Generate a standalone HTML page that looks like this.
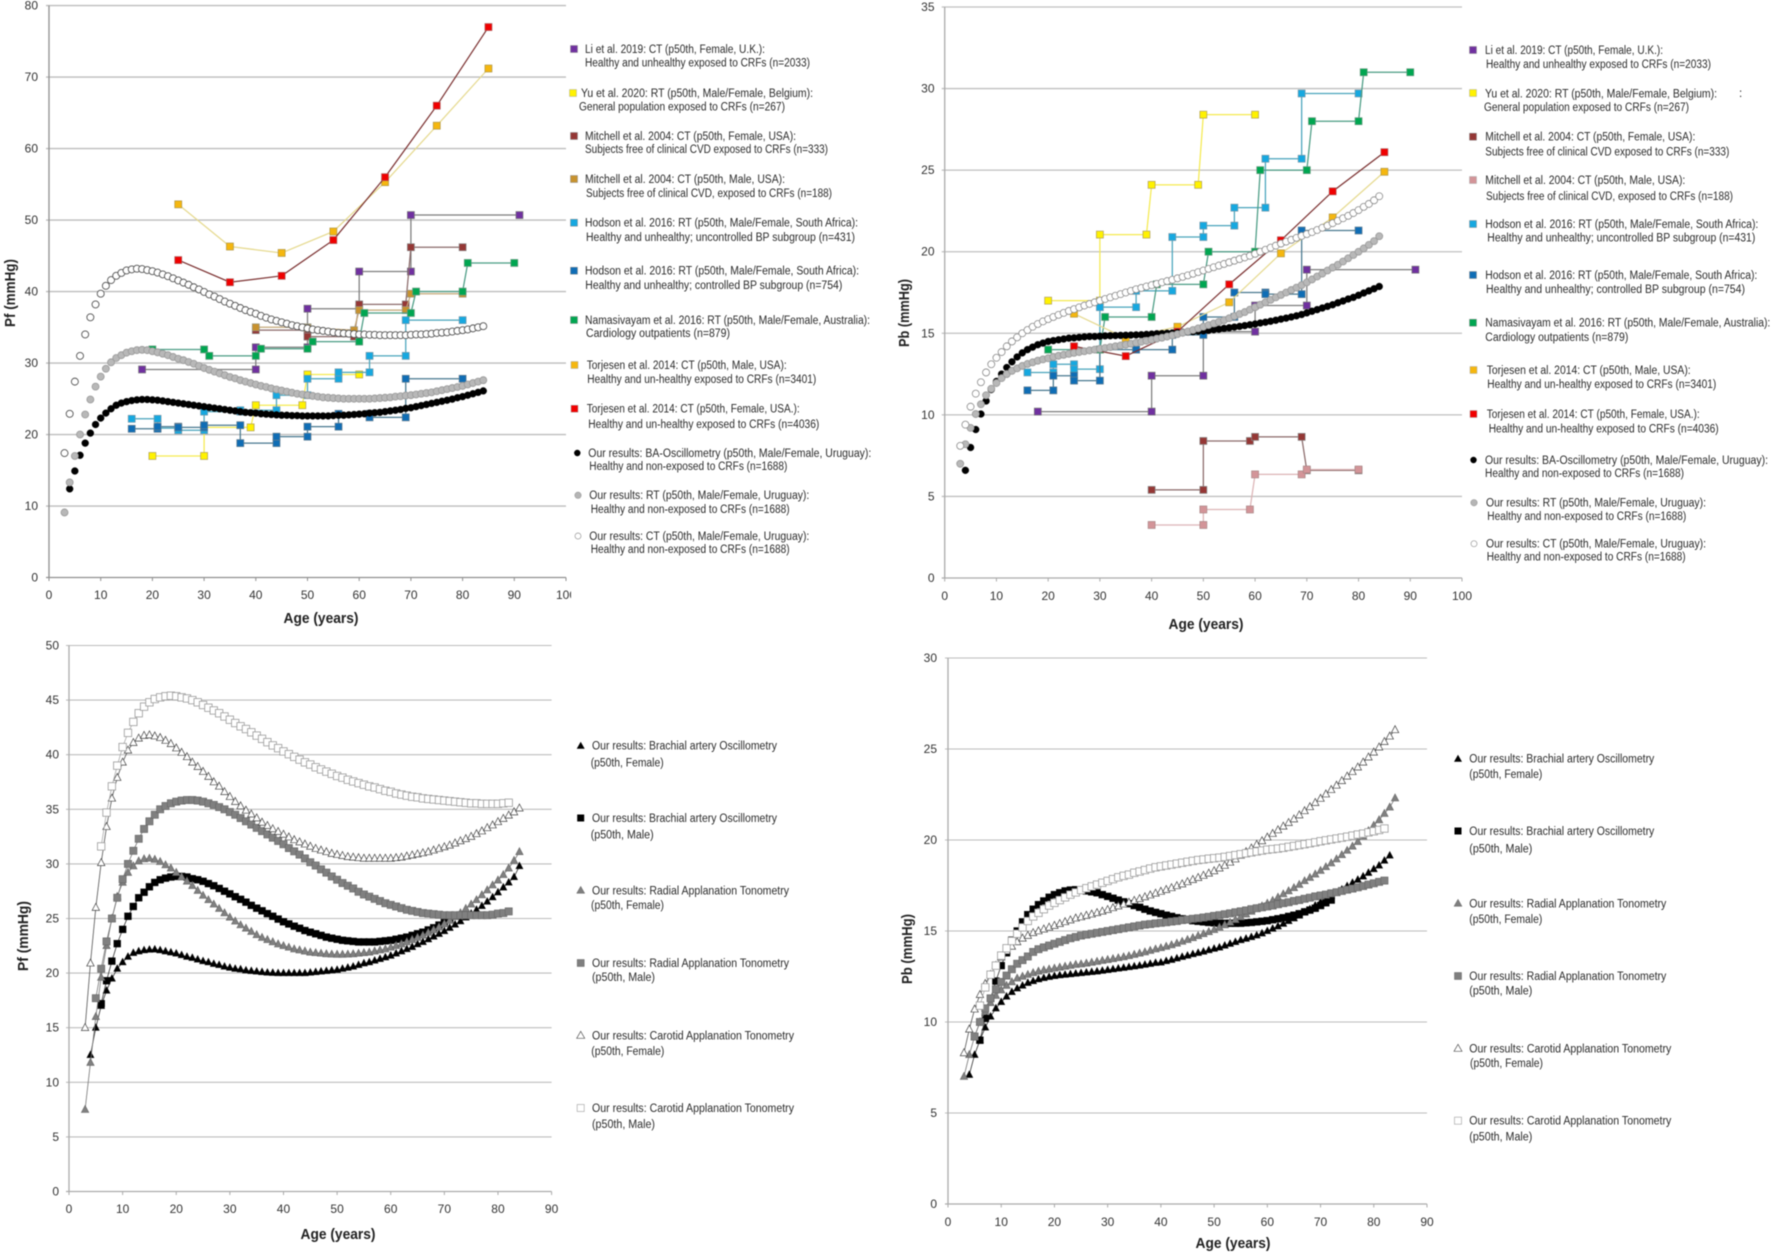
<!DOCTYPE html>
<html lang="en">
<head>
<meta charset="utf-8">
<title>Pf and Pb by age</title>
<style>
html,body{margin:0;padding:0;background:#fff;}
svg{display:block;filter:blur(0.45px);}
text{font-family:"Liberation Sans",sans-serif;}
.lg text{font-size:11.5px;fill:#2b2b2b;}
.at{font-size:15px;font-weight:bold;fill:#222;}
</style>
</head>
<body>
<svg id="figure" xmlns="http://www.w3.org/2000/svg" width="1772" height="1254" viewBox="0 0 1772 1254">
<rect width="1772" height="1254" fill="#fff"/>
<g id="chart-pf-top"></g>
<g id="chart-pb-top"></g>
<g id="chart-pf-bottom"></g>
<g id="chart-pb-bottom"></g>

<rect x="571" y="586" width="14" height="18" fill="#fff"/>

<text class="at" x="321" y="623" text-anchor="middle" textLength="75" lengthAdjust="spacingAndGlyphs">Age (years)</text>
<text class="at" transform="translate(15,293) rotate(-90)" text-anchor="middle" textLength="68" lengthAdjust="spacingAndGlyphs">Pf (mmHg)</text>
<text class="at" x="1206" y="629" text-anchor="middle" textLength="75" lengthAdjust="spacingAndGlyphs">Age (years)</text>
<text class="at" transform="translate(909,313) rotate(-90)" text-anchor="middle" textLength="68" lengthAdjust="spacingAndGlyphs">Pb (mmHg)</text>
<text class="at" x="338" y="1239" text-anchor="middle" textLength="75" lengthAdjust="spacingAndGlyphs">Age (years)</text>
<text class="at" transform="translate(28,936) rotate(-90)" text-anchor="middle" textLength="70" lengthAdjust="spacingAndGlyphs">Pf (mmHg)</text>
<text class="at" x="1233" y="1248" text-anchor="middle" textLength="75" lengthAdjust="spacingAndGlyphs">Age (years)</text>
<text class="at" transform="translate(912,949) rotate(-90)" text-anchor="middle" textLength="70" lengthAdjust="spacingAndGlyphs">Pb (mmHg)</text>

<g class="lg">
<g><rect x="570.5" y="45.5" width="7" height="7" fill="#7030A0" stroke="#888" stroke-width=".5"/><text x="585" y="53" textLength="180" lengthAdjust="spacingAndGlyphs">Li et al. 2019: CT (p50th, Female, U.K.):</text><text x="585" y="66.7" textLength="225" lengthAdjust="spacingAndGlyphs">Healthy and unhealthy exposed to CRFs (n=2033)</text></g>
<g><rect x="569.5" y="89.5" width="7" height="7" fill="#FFF200" stroke="#aaa" stroke-width=".5"/><text x="581" y="97" textLength="232" lengthAdjust="spacingAndGlyphs">Yu et al. 2020: RT (p50th, Male/Female, Belgium):</text><text x="579" y="110.7" textLength="206" lengthAdjust="spacingAndGlyphs">General population exposed to CRFs (n=267)</text></g>
<g><rect x="570.5" y="132.5" width="7" height="7" fill="#953735" stroke="#888" stroke-width=".5"/><text x="585" y="140" textLength="211" lengthAdjust="spacingAndGlyphs">Mitchell et al. 2004: CT (p50th, Female, USA):</text><text x="585" y="153" textLength="243" lengthAdjust="spacingAndGlyphs">Subjects free of clinical CVD exposed to CRFs (n=333)</text></g>
<g><rect x="570.5" y="175.5" width="7" height="7" fill="#C8922E" stroke="#888" stroke-width=".5"/><text x="585" y="183" textLength="200" lengthAdjust="spacingAndGlyphs">Mitchell et al. 2004: CT (p50th, Male, USA):</text><text x="586" y="197" textLength="246" lengthAdjust="spacingAndGlyphs">Subjects free of clinical CVD, exposed to CRFs (n=188)</text></g>
<g><rect x="570.5" y="219.2" width="7" height="7" fill="#16A8E0" stroke="#888" stroke-width=".5"/><text x="585" y="226.7" textLength="273" lengthAdjust="spacingAndGlyphs">Hodson et al. 2016: RT (p50th, Male/Female, South Africa):</text><text x="586" y="241" textLength="269" lengthAdjust="spacingAndGlyphs">Healthy and unhealthy; uncontrolled BP subgroup (n=431)</text></g>
<g><rect x="570.5" y="267.2" width="7" height="7" fill="#0F6DB5" stroke="#888" stroke-width=".5"/><text x="585" y="274.7" textLength="274" lengthAdjust="spacingAndGlyphs">Hodson et al. 2016: RT (p50th, Male/Female, South Africa):</text><text x="585.3" y="289" textLength="257" lengthAdjust="spacingAndGlyphs">Healthy and unhealthy; controlled BP subgroup (n=754)</text></g>
<g><rect x="570.5" y="316.5" width="7" height="7" fill="#00A651" stroke="#888" stroke-width=".5"/><text x="585" y="324" textLength="285" lengthAdjust="spacingAndGlyphs">Namasivayam et al. 2016: RT (p50th, Male/Female, Australia):</text><text x="586" y="337" textLength="144" lengthAdjust="spacingAndGlyphs">Cardiology outpatients (n=879)</text></g>
<g><rect x="571" y="361.5" width="7" height="7" fill="#F5B70F" stroke="#aaa" stroke-width=".5"/><text x="586.7" y="369" textLength="200" lengthAdjust="spacingAndGlyphs">Torjesen et al. 2014: CT (p50th, Male, USA):</text><text x="587.3" y="383" textLength="229" lengthAdjust="spacingAndGlyphs">Healthy and un-healthy exposed to CRFs (n=3401)</text></g>
<g><rect x="571" y="405.2" width="7" height="7" fill="#F00000" stroke="#aaa" stroke-width=".5"/><text x="586.7" y="412.7" textLength="213" lengthAdjust="spacingAndGlyphs">Torjesen et al. 2014: CT (p50th, Female, USA.):</text><text x="588.3" y="428" textLength="231" lengthAdjust="spacingAndGlyphs">Healthy and un-healthy exposed to CRFs (n=4036)</text></g>
<g><circle cx="577.3" cy="453" r="3.2" fill="#000"/><text x="588.3" y="457" textLength="283" lengthAdjust="spacingAndGlyphs">Our results: BA-Oscillometry (p50th, Male/Female, Uruguay):</text><text x="589.3" y="470" textLength="198" lengthAdjust="spacingAndGlyphs">Healthy and non-exposed to CRFs (n=1688)</text></g>
<g><circle cx="578" cy="495.3" r="3.2" fill="#b5b5b5" stroke="#999" stroke-width=".6"/><text x="589.3" y="499" textLength="220" lengthAdjust="spacingAndGlyphs">Our results: RT (p50th, Male/Female, Uruguay):</text><text x="590.7" y="513" textLength="199" lengthAdjust="spacingAndGlyphs">Healthy and non-exposed to CRFs (n=1688)</text></g>
<g><circle cx="578" cy="536" r="3" fill="#fff" stroke="#999" stroke-width=".7"/><text x="589.3" y="540" textLength="220" lengthAdjust="spacingAndGlyphs">Our results: CT (p50th, Male/Female, Uruguay):</text><text x="590.7" y="553" textLength="199" lengthAdjust="spacingAndGlyphs">Healthy and non-exposed to CRFs (n=1688)</text></g>
</g>

<g class="lg">
<g><rect x="1469.5" y="46.5" width="7" height="7" fill="#7030A0" stroke="#888" stroke-width=".5"/><text x="1485" y="54" textLength="178" lengthAdjust="spacingAndGlyphs">Li et al. 2019: CT (p50th, Female, U.K.):</text><text x="1486" y="68" textLength="225" lengthAdjust="spacingAndGlyphs">Healthy and unhealthy exposed to CRFs (n=2033)</text></g>
<g><rect x="1469.5" y="89.5" width="7" height="7" fill="#FFF200" stroke="#aaa" stroke-width=".5"/><text x="1485" y="97.7" textLength="232" lengthAdjust="spacingAndGlyphs">Yu et al. 2020: RT (p50th, Male/Female, Belgium):</text><text x="1739" y="97">:</text><text x="1484" y="111" textLength="205" lengthAdjust="spacingAndGlyphs">General population exposed to CRFs (n=267)</text></g>
<g><rect x="1469.5" y="133.2" width="7" height="7" fill="#953735" stroke="#888" stroke-width=".5"/><text x="1485.3" y="140.7" textLength="210" lengthAdjust="spacingAndGlyphs">Mitchell et al. 2004: CT (p50th, Female, USA):</text><text x="1485.3" y="155.7" textLength="244" lengthAdjust="spacingAndGlyphs">Subjects free of clinical CVD exposed to CRFs (n=333)</text></g>
<g><rect x="1469.5" y="176.5" width="7" height="7" fill="#D39498" stroke="#aaa" stroke-width=".5"/><text x="1485.3" y="184" textLength="200" lengthAdjust="spacingAndGlyphs">Mitchell et al. 2004: CT (p50th, Male, USA):</text><text x="1486" y="200" textLength="247" lengthAdjust="spacingAndGlyphs">Subjects free of clinical CVD, exposed to CRFs (n=188)</text></g>
<g><rect x="1469.5" y="220.5" width="7" height="7" fill="#16A8E0" stroke="#888" stroke-width=".5"/><text x="1485.3" y="228" textLength="273" lengthAdjust="spacingAndGlyphs">Hodson et al. 2016: RT (p50th, Male/Female, South Africa):</text><text x="1487.3" y="241.7" textLength="268" lengthAdjust="spacingAndGlyphs">Healthy and unhealthy; uncontrolled BP subgroup (n=431)</text></g>
<g><rect x="1469.5" y="271.5" width="7" height="7" fill="#0F6DB5" stroke="#888" stroke-width=".5"/><text x="1485.3" y="279" textLength="272" lengthAdjust="spacingAndGlyphs">Hodson et al. 2016: RT (p50th, Male/Female, South Africa):</text><text x="1486" y="293" textLength="259" lengthAdjust="spacingAndGlyphs">Healthy and unhealthy; controlled BP subgroup (n=754)</text></g>
<g><rect x="1469.5" y="319.2" width="7" height="7" fill="#00A651" stroke="#888" stroke-width=".5"/><text x="1485.3" y="326.7" textLength="285" lengthAdjust="spacingAndGlyphs">Namasivayam et al. 2016: RT (p50th, Male/Female, Australia):</text><text x="1485.3" y="341" textLength="143" lengthAdjust="spacingAndGlyphs">Cardiology outpatients (n=879)</text></g>
<g><rect x="1470" y="366.5" width="7" height="7" fill="#F5B70F" stroke="#aaa" stroke-width=".5"/><text x="1486.7" y="374" textLength="204" lengthAdjust="spacingAndGlyphs">Torjesen et al. 2014: CT (p50th, Male, USA):</text><text x="1487.3" y="388" textLength="229" lengthAdjust="spacingAndGlyphs">Healthy and un-healthy exposed to CRFs (n=3401)</text></g>
<g><rect x="1470" y="410.5" width="7" height="7" fill="#F00000" stroke="#aaa" stroke-width=".5"/><text x="1486.7" y="418" textLength="213" lengthAdjust="spacingAndGlyphs">Torjesen et al. 2014: CT (p50th, Female, USA.):</text><text x="1488.7" y="432.7" textLength="230" lengthAdjust="spacingAndGlyphs">Healthy and un-healthy exposed to CRFs (n=4036)</text></g>
<g><circle cx="1473.5" cy="460" r="3.2" fill="#000"/><text x="1485" y="464" textLength="283" lengthAdjust="spacingAndGlyphs">Our results: BA-Oscillometry (p50th, Male/Female, Uruguay):</text><text x="1485" y="477" textLength="199" lengthAdjust="spacingAndGlyphs">Healthy and non-exposed to CRFs (n=1688)</text></g>
<g><circle cx="1474" cy="502.7" r="3.2" fill="#b5b5b5" stroke="#999" stroke-width=".6"/><text x="1486" y="506.7" textLength="220" lengthAdjust="spacingAndGlyphs">Our results: RT (p50th, Male/Female, Uruguay):</text><text x="1487.3" y="520" textLength="199" lengthAdjust="spacingAndGlyphs">Healthy and non-exposed to CRFs (n=1688)</text></g>
<g><circle cx="1474" cy="543.7" r="3" fill="#fff" stroke="#999" stroke-width=".7"/><text x="1486" y="547.7" textLength="220" lengthAdjust="spacingAndGlyphs">Our results: CT (p50th, Male/Female, Uruguay):</text><text x="1486.7" y="560.7" textLength="199" lengthAdjust="spacingAndGlyphs">Healthy and non-exposed to CRFs (n=1688)</text></g>
</g>

<g class="lg">
<g><polygon points="580.7,741.7 584.7,748.7 576.7,748.7" fill="#000"/><text x="592" y="749.7" textLength="185" lengthAdjust="spacingAndGlyphs">Our results: Brachial artery Oscillometry</text><text x="590.7" y="766.3" textLength="73" lengthAdjust="spacingAndGlyphs">(p50th, Female)</text></g>
<g><rect x="577.2" y="814.5" width="7" height="7" fill="#000"/><text x="592" y="822" textLength="185" lengthAdjust="spacingAndGlyphs">Our results: Brachial artery Oscillometry</text><text x="590.7" y="838.3" textLength="63" lengthAdjust="spacingAndGlyphs">(p50th, Male)</text></g>
<g><polygon points="580.7,886.3 584.7,893.3 576.7,893.3" fill="#7f7f7f" stroke="#666" stroke-width=".5"/><text x="592" y="894.3" textLength="197" lengthAdjust="spacingAndGlyphs">Our results: Radial Applanation Tonometry</text><text x="591" y="909" textLength="73" lengthAdjust="spacingAndGlyphs">(p50th, Female)</text></g>
<g><rect x="577.2" y="959.5" width="7" height="7" fill="#7f7f7f" stroke="#666" stroke-width=".5"/><text x="592" y="967" textLength="197" lengthAdjust="spacingAndGlyphs">Our results: Radial Applanation Tonometry</text><text x="592" y="981" textLength="63" lengthAdjust="spacingAndGlyphs">(p50th, Male)</text></g>
<g><polygon points="580.7,1031.3 584.7,1038.3 576.7,1038.3" fill="#fff" stroke="#555" stroke-width=".7"/><text x="592" y="1039.3" textLength="202" lengthAdjust="spacingAndGlyphs">Our results: Carotid Applanation Tonometry</text><text x="591.3" y="1055" textLength="73" lengthAdjust="spacingAndGlyphs">(p50th, Female)</text></g>
<g><rect x="577.2" y="1104.5" width="7" height="7" fill="#fff" stroke="#aaa" stroke-width=".7"/><text x="592" y="1112" textLength="202" lengthAdjust="spacingAndGlyphs">Our results: Carotid Applanation Tonometry</text><text x="592" y="1128" textLength="63" lengthAdjust="spacingAndGlyphs">(p50th, Male)</text></g>
</g>

<g class="lg">
<g><polygon points="1458,754.7 1462,761.7 1454,761.7" fill="#000"/><text x="1469.3" y="762.7" textLength="185" lengthAdjust="spacingAndGlyphs">Our results: Brachial artery Oscillometry</text><text x="1469.3" y="778" textLength="73" lengthAdjust="spacingAndGlyphs">(p50th, Female)</text></g>
<g><rect x="1454.5" y="827.5" width="7" height="7" fill="#000"/><text x="1469.3" y="835" textLength="185" lengthAdjust="spacingAndGlyphs">Our results: Brachial artery Oscillometry</text><text x="1469.3" y="852.3" textLength="63" lengthAdjust="spacingAndGlyphs">(p50th, Male)</text></g>
<g><polygon points="1458,899.3 1462,906.3 1454,906.3" fill="#7f7f7f" stroke="#666" stroke-width=".5"/><text x="1469.3" y="907.3" textLength="197" lengthAdjust="spacingAndGlyphs">Our results: Radial Applanation Tonometry</text><text x="1469.3" y="923" textLength="73" lengthAdjust="spacingAndGlyphs">(p50th, Female)</text></g>
<g><rect x="1454.5" y="972.5" width="7" height="7" fill="#7f7f7f" stroke="#666" stroke-width=".5"/><text x="1469.3" y="980" textLength="197" lengthAdjust="spacingAndGlyphs">Our results: Radial Applanation Tonometry</text><text x="1469.3" y="994.7" textLength="63" lengthAdjust="spacingAndGlyphs">(p50th, Male)</text></g>
<g><polygon points="1458,1044.3 1462,1051.3 1454,1051.3" fill="#fff" stroke="#555" stroke-width=".7"/><text x="1469.3" y="1052.3" textLength="202" lengthAdjust="spacingAndGlyphs">Our results: Carotid Applanation Tonometry</text><text x="1470" y="1067" textLength="73" lengthAdjust="spacingAndGlyphs">(p50th, Female)</text></g>
<g><rect x="1454.5" y="1117.2" width="7" height="7" fill="#fff" stroke="#aaa" stroke-width=".7"/><text x="1469.3" y="1124.7" textLength="202" lengthAdjust="spacingAndGlyphs">Our results: Carotid Applanation Tonometry</text><text x="1469.3" y="1140.7" textLength="63" lengthAdjust="spacingAndGlyphs">(p50th, Male)</text></g>
</g>
</svg>

<script>
/* ---- tick labels ---- */
const pfTopXTicks = [0,10,20,30,40,50,60,70,80,90,100];
const pfTopYTicks = [0,10,20,30,40,50,60,70,80];
const pbTopXTicks = [0,10,20,30,40,50,60,70,80,90,100];
const pbTopYTicks = [0,5,10,15,20,25,30,35];
const pfBottomXTicks = [0,10,20,30,40,50,60,70,80,90];
const pfBottomYTicks = [0,5,10,15,20,25,30,35,40,45,50];
const pbBottomXTicks = [0,10,20,30,40,50,60,70,80,90];
const pbBottomYTicks = [0,5,10,15,20,25,30];

/* ---- Pf literature series ---- */
const pfLiAges = [18,40,40,50,50,60,60,70,70,91];
const pfLiValues = [29.1,29.1,32.2,32.2,37.6,37.6,42.8,42.8,50.7,50.7];
const pfYuAges = [20,30,30,39,40,49,50,60];
const pfYuValues = [17,17,21,21,24.1,24.1,28.4,28.4];
const pfMitchellFAges = [40,50,50,59,60,69,70,80];
const pfMitchellFValues = [34.6,34.6,33.7,33.7,38.2,38.2,46.2,46.2];
const pfMitchellMAges = [40,50,50,59,60,69,70,80];
const pfMitchellMValues = [35,35,34.9,34.6,37.4,37.4,39.7,39.7];
const pfHodsonUAges = [16,21,21,25,25,30,30,37,37,44,44,50,50,56,56,62,62,69,69,80];
const pfHodsonUValues = [22.2,22.2,20.9,20.9,20.6,20.6,23.2,23.2,23.4,23.4,25.5,25.5,27.8,27.8,28.7,28.7,31,31,36,36];
const pfHodsonCAges = [16,21,21,25,25,30,30,37,37,44,44,50,50,56,56,62,62,69,69,80];
const pfHodsonCValues = [20.8,20.8,21.1,21.1,21,21,21.3,21.3,18.8,18.8,19.7,19.7,21.1,21.1,22.9,22.9,22.4,22.4,27.8,27.8];
const pfNamaAges = [20,30,31,40,41,50,51,60,61,70,71,80,81,90];
const pfNamaValues = [31.9,31.9,31,31,32,32,33,33,37,37,40,40,44,44];
const pfTorjesenAges = [25,35,45,55,65,75,85];
const pfTorjesenMValues = [52.2,46.3,45.4,48.4,55.3,63.2,71.2];
const pfTorjesenFValues = [44.4,41.3,42.2,47.2,56,66,77];

/* ---- Pf own results: circles ---- */
const pfCircleBaStart = 4;
const pfCircleBa = [12.4,14.9,17.1,18.8,20.2,21.4,22.3,23,23.6,24.1,24.4,24.6,24.75,24.85,24.9,24.9,24.85,24.8,24.7,24.6,24.5,24.4,24.3,24.2,24.1,24,23.9,23.8,23.7,23.6,23.5,23.4,23.3,23.2,23.1,23.05,23,22.9,22.85,22.8,22.75,22.7,22.7,22.65,22.65,22.6,22.6,22.6,22.6,22.6,22.6,22.65,22.7,22.7,22.75,22.8,22.85,22.9,23,23.05,23.1,23.2,23.3,23.4,23.5,23.65,23.75,23.9,24.05,24.2,24.35,24.5,24.65,24.8,24.95,25.15,25.3,25.5,25.7,25.9,26.1];
const pfCircleRtStart = 3;
const pfCircleRt = [9.1,13.3,17,20,22.8,24.9,26.7,28.1,29.2,30.1,30.7,31.1,31.45,31.65,31.8,31.85,31.8,31.65,31.5,31.3,31.1,30.85,30.6,30.4,30.15,29.9,29.6,29.3,29.05,28.8,28.55,28.3,28.05,27.85,27.6,27.4,27.2,27,26.8,26.65,26.45,26.3,26.15,26,25.85,25.7,25.6,25.5,25.4,25.3,25.2,25.15,25.1,25.05,25,25,25,25,25,25,25.05,25.1,25.15,25.2,25.3,25.35,25.45,25.5,25.6,25.7,25.8,25.9,26.05,26.2,26.35,26.5,26.65,26.8,27,27.2,27.4,27.6];
const pfCircleCtStart = 3;
const pfCircleCt = [17.4,22.9,27.4,31,34,36.4,38.2,39.7,40.8,41.6,42.2,42.6,42.95,43.1,43.2,43.15,43,42.85,42.65,42.4,42.15,41.85,41.55,41.25,40.95,40.6,40.3,39.95,39.6,39.3,38.95,38.6,38.3,38,37.7,37.4,37.15,36.9,36.6,36.35,36.1,35.9,35.7,35.5,35.3,35.15,35,34.85,34.7,34.6,34.5,34.4,34.3,34.2,34.15,34.1,34.05,34,34,33.95,33.95,33.9,33.9,33.9,33.9,33.9,33.9,33.95,34,34,34.05,34.1,34.2,34.25,34.3,34.4,34.5,34.6,34.7,34.85,35,35.15];

/* ---- Pb literature series ---- */
const pbLiAges = [18,40,40,50,50,60,60,70,70,91];
const pbLiValues = [10.2,10.2,12.4,12.4,15.1,15.1,16.7,16.7,18.9,18.9];
const pbYuAges = [20,30,30,39,40,49,50,60];
const pbYuValues = [17,17,21.05,21.05,24.1,24.1,28.4,28.4];
const pbMitchellFAges = [40,50,50,59,60,69,70,80];
const pbMitchellFValues = [5.4,5.4,8.4,8.4,8.65,8.65,6.6,6.6];
const pbMitchellMAges = [40,50,50,59,60,69,70,80];
const pbMitchellMValues = [3.25,3.25,4.2,4.2,6.35,6.35,6.65,6.65];
const pbHodsonUAges = [16,21,21,25,25,30,30,37,37,44,44,50,50,56,56,62,62,69,69,80];
const pbHodsonUValues = [12.6,12.6,13.1,13.1,12.8,12.8,16.6,16.6,17.6,17.6,20.9,20.9,21.6,21.6,22.7,22.7,25.7,25.7,29.7,29.7];
const pbHodsonCAges = [16,21,21,25,25,30,30,37,37,44,44,50,50,56,56,62,62,69,69,80];
const pbHodsonCValues = [11.5,11.5,12.4,12.4,12.1,12.1,14,14,14,14,14.9,14.9,16,16,17.5,17.5,17.4,17.4,21.3,21.3];
const pbNamaAges = [20,30,31,40,41,50,51,60,61,70,71,80,81,90];
const pbNamaValues = [14,14,16,16,18,18,20,20,25,25,28,28,31,31];
const pbTorjesenAges = [25,35,45,55,65,75,85];
const pbTorjesenMValues = [16.2,14.7,15.4,16.9,19.9,22.1,24.9];
const pbTorjesenFValues = [14.2,13.6,15.1,18,20.7,23.7,26.1];

/* ---- Pb own results: circles ---- */
const pbCircleBaStart = 4;
const pbCircleBa = [6.6,8,9.1,10.05,10.85,11.55,12.05,12.5,12.9,13.25,13.55,13.8,14,14.15,14.3,14.4,14.5,14.55,14.6,14.65,14.7,14.72,14.75,14.78,14.8,14.8,14.82,14.84,14.85,14.86,14.87,14.88,14.89,14.9,14.91,14.93,14.95,14.97,14.98,15,15.02,15.04,15.06,15.08,15.1,15.13,15.15,15.18,15.22,15.25,15.3,15.34,15.38,15.42,15.47,15.52,15.57,15.63,15.68,15.74,15.8,15.87,15.93,16,16.07,16.15,16.25,16.35,16.45,16.55,16.65,16.75,16.87,16.98,17.1,17.2,17.33,17.47,17.6,17.73,17.87];
const pbCircleRtStart = 3;
const pbCircleRt = [7,8.2,9.2,10.05,10.65,11.2,11.6,11.95,12.25,12.5,12.7,12.85,13,13.12,13.22,13.32,13.4,13.47,13.55,13.62,13.68,13.74,13.8,13.85,13.9,13.95,14,14.05,14.1,14.15,14.2,14.25,14.3,14.36,14.42,14.48,14.54,14.6,14.67,14.73,14.8,14.87,14.95,15.03,15.11,15.2,15.3,15.4,15.5,15.6,15.7,15.8,15.92,16.05,16.18,16.3,16.45,16.6,16.75,16.9,17.05,17.2,17.35,17.5,17.65,17.8,17.95,18.12,18.3,18.48,18.66,18.85,19.03,19.2,19.4,19.6,19.8,20,20.2,20.42,20.65,20.95];
const pbCircleCtStart = 3;
const pbCircleCt = [8.1,9.4,10.5,11.3,12,12.6,13.1,13.5,13.85,14.2,14.5,14.75,15,15.2,15.4,15.57,15.73,15.87,16,16.13,16.25,16.37,16.48,16.59,16.7,16.8,16.9,17,17.1,17.2,17.3,17.4,17.5,17.6,17.7,17.78,17.87,17.95,18.03,18.12,18.2,18.28,18.37,18.46,18.55,18.65,18.75,18.85,18.95,19.05,19.15,19.25,19.35,19.45,19.55,19.65,19.75,19.87,20,20.12,20.25,20.37,20.5,20.62,20.73,20.85,20.97,21.08,21.2,21.33,21.47,21.6,21.75,21.9,22.05,22.2,22.37,22.55,22.75,22.93,23.15,23.4];

/* ---- Pf by sex ---- */
const pfBaFemaleStart = 4;
const pfBaFemale = [12.5,15,17,18.4,19.5,20.4,21,21.5,21.85,22,22.1,22.15,22.17,22.1,22,21.9,21.8,21.65,21.5,21.4,21.25,21.1,21,20.85,20.75,20.6,20.5,20.4,20.35,20.25,20.2,20.15,20.1,20.05,20.03,20,20,20,20,20,20,20.05,20.1,20.15,20.2,20.25,20.3,20.4,20.5,20.6,20.75,20.9,21,21.15,21.3,21.45,21.6,21.8,22,22.2,22.4,22.65,22.85,23.1,23.35,23.6,23.85,24.15,24.45,24.75,25.1,25.45,25.8,26.15,26.55,26.95,27.4,27.85,28.3,28.8,29.8];
const pfBaMaleStart = 6;
const pfBaMale = [17.2,19.3,21.1,22.7,24,25.2,26.1,26.9,27.4,27.9,28.3,28.55,28.7,28.8,28.85,28.85,28.8,28.65,28.55,28.4,28.2,28,27.75,27.5,27.25,27,26.75,26.5,26.2,25.95,25.7,25.45,25.2,24.95,24.7,24.5,24.3,24.1,23.9,23.75,23.6,23.45,23.3,23.2,23.1,23,22.95,22.9,22.85,22.85,22.85,22.85,22.9,22.95,23,23.1,23.2,23.3,23.45,23.6,23.75,23.95,24.15,24.4,24.65,24.9,25.2];
const pfRtFemaleStart = 3;
const pfRtFemale = [7.5,11.8,16,19.6,22.5,25,27,28.3,29.2,29.8,30.25,30.45,30.5,30.4,30.2,29.9,29.6,29.2,28.8,28.4,28,27.55,27.1,26.7,26.3,25.9,25.5,25.1,24.75,24.4,24.1,23.8,23.5,23.25,23.05,22.85,22.65,22.5,22.35,22.2,22.1,22,21.9,21.85,21.8,21.75,21.72,21.7,21.7,21.72,21.75,21.8,21.85,21.9,22,22.1,22.2,22.35,22.5,22.65,22.85,23.05,23.25,23.45,23.7,23.95,24.2,24.5,24.8,25.15,25.5,25.9,26.3,26.7,27.15,27.6,28.05,28.5,29,29.6,30.3,31.1];
const pfRtMaleStart = 5;
const pfRtMale = [17.7,20.4,22.9,25,26.9,28.6,30,31.2,32.3,33.2,33.9,34.5,35,35.3,35.55,35.7,35.8,35.85,35.85,35.8,35.7,35.55,35.4,35.2,35,34.75,34.5,34.2,33.9,33.6,33.3,33,32.7,32.4,32.1,31.8,31.45,31.15,30.85,30.5,30.15,29.85,29.5,29.2,28.85,28.55,28.25,28,27.75,27.45,27.2,27,26.8,26.6,26.4,26.25,26.1,25.95,25.8,25.7,25.6,25.5,25.45,25.4,25.35,25.3,25.3,25.3,25.3,25.3,25.3,25.3,25.3,25.3,25.35,25.45,25.5,25.65];
const pfCtFemaleStart = 3;
const pfCtFemale = [15,20.9,26,30.1,33.4,36,37.9,39.3,40.4,41.1,41.5,41.75,41.8,41.7,41.55,41.3,41,40.6,40.2,39.8,39.3,38.9,38.45,38,37.5,37.1,36.6,36.15,35.7,35.3,34.9,34.55,34.2,33.8,33.5,33.2,32.95,32.7,32.45,32.2,32,31.8,31.6,31.4,31.25,31.1,30.95,30.85,30.75,30.65,30.6,30.55,30.5,30.5,30.5,30.5,30.5,30.5,30.55,30.6,30.7,30.8,30.9,31,31.1,31.25,31.4,31.55,31.7,31.9,32.1,32.3,32.5,32.75,33,33.3,33.55,33.85,34.15,34.45,34.75,35.1];
const pfCtMaleStart = 6;
const pfCtMale = [31.6,34.7,37.1,39,40.7,42,43,43.8,44.4,44.8,45.1,45.25,45.35,45.4,45.35,45.25,45.15,45,44.8,44.55,44.3,44.05,43.8,43.5,43.2,42.9,42.6,42.35,42.05,41.75,41.45,41.15,40.85,40.6,40.3,40.05,39.8,39.55,39.3,39.1,38.85,38.65,38.45,38.25,38.05,37.9,37.7,37.55,37.4,37.25,37.1,37,36.85,36.7,36.6,36.45,36.35,36.25,36.15,36.1,36,35.95,35.9,35.85,35.8,35.75,35.7,35.65,35.6,35.55,35.55,35.5,35.5,35.5,35.5,35.55,35.6];

/* ---- Pb by sex ---- */
const pbBaFemaleStart = 4;
const pbBaFemale = [7.1,8.2,9,9.7,10.3,10.75,11.1,11.4,11.65,11.85,12,12.15,12.25,12.35,12.42,12.48,12.53,12.57,12.6,12.63,12.66,12.69,12.72,12.75,12.78,12.82,12.86,12.9,12.94,12.98,13.02,13.06,13.1,13.15,13.2,13.25,13.27,13.35,13.42,13.5,13.58,13.65,13.73,13.8,13.87,13.95,14.03,14.1,14.2,14.3,14.4,14.5,14.58,14.67,14.76,14.87,15,15.13,15.26,15.4,15.55,15.7,15.85,16.03,16.2,16.4,16.58,16.75,16.93,17.1,17.28,17.47,17.65,17.82,18,18.2,18.4,18.6,18.87,19.15];
const pbBaMaleStart = 6;
const pbBaMale = [9,10.2,11.3,12.25,13.1,13.8,14.5,15,15.5,15.9,16.2,16.45,16.65,16.85,17,17.1,17.2,17.25,17.27,17.25,17.2,17.15,17.1,17,16.9,16.8,16.7,16.6,16.5,16.4,16.3,16.2,16.1,16.02,15.95,15.87,15.8,15.73,15.67,15.62,15.57,15.53,15.5,15.47,15.45,15.43,15.42,15.42,15.42,15.43,15.45,15.47,15.5,15.53,15.57,15.62,15.67,15.73,15.8,15.87,15.95,16.05,16.15,16.25,16.4,16.55,16.7];
const pbRtFemaleStart = 3;
const pbRtFemale = [7,8.2,9.2,10,10.6,11.05,11.45,11.75,12,12.2,12.4,12.5,12.6,12.7,12.78,12.85,12.9,12.95,13,13.05,13.1,13.15,13.18,13.22,13.27,13.32,13.37,13.42,13.47,13.52,13.57,13.63,13.7,13.77,13.84,13.92,14,14.07,14.15,14.23,14.32,14.42,14.52,14.62,14.73,14.84,14.95,15.07,15.2,15.33,15.47,15.62,15.77,15.92,16.07,16.22,16.37,16.52,16.67,16.85,17.03,17.2,17.37,17.55,17.75,17.93,18.12,18.32,18.52,18.73,18.95,19.18,19.42,19.65,19.9,20.2,20.5,20.8,21.1,21.45,21.8,22.3];
const pbRtMaleStart = 5;
const pbRtMale = [9.2,10,10.75,11.3,11.8,12.2,12.55,12.9,13.2,13.4,13.6,13.85,14,14.1,14.2,14.3,14.4,14.5,14.6,14.67,14.75,14.8,14.85,14.9,14.95,15,15.05,15.1,15.15,15.2,15.25,15.3,15.35,15.38,15.42,15.45,15.48,15.52,15.55,15.6,15.63,15.67,15.7,15.74,15.78,15.83,15.87,15.92,15.97,16.03,16.08,16.13,16.2,16.25,16.3,16.35,16.4,16.47,16.53,16.58,16.65,16.7,16.77,16.83,16.9,16.95,17,17.07,17.13,17.2,17.27,17.33,17.4,17.47,17.55,17.62,17.7,17.77];
const pbCtFemaleStart = 3;
const pbCtFemale = [8.3,9.6,10.7,11.5,12.1,12.6,13.1,13.55,13.9,14.15,14.4,14.6,14.75,14.9,15,15.1,15.2,15.3,15.4,15.5,15.6,15.7,15.77,15.85,15.92,16,16.08,16.17,16.27,16.37,16.47,16.57,16.67,16.77,16.87,16.97,17.07,17.17,17.27,17.37,17.48,17.58,17.7,17.82,17.93,18.05,18.17,18.3,18.45,18.6,18.77,18.95,19.15,19.35,19.55,19.75,19.95,20.15,20.35,20.55,20.75,20.95,21.15,21.37,21.6,21.82,22.05,22.28,22.52,22.76,23,23.25,23.5,23.75,24,24.27,24.55,24.82,25.1,25.4,25.7,26.05];
const pbCtMaleStart = 6;
const pbCtMale = [10.9,11.9,12.6,13.1,13.65,14.05,14.45,14.85,15.2,15.55,15.8,16,16.2,16.4,16.55,16.7,16.85,17,17.12,17.25,17.35,17.45,17.55,17.65,17.75,17.85,17.95,18.03,18.1,18.2,18.27,18.35,18.43,18.5,18.55,18.6,18.65,18.7,18.75,18.8,18.85,18.9,18.93,18.97,19,19.03,19.07,19.12,19.17,19.22,19.27,19.32,19.37,19.42,19.47,19.5,19.53,19.57,19.62,19.67,19.72,19.77,19.82,19.87,19.93,19.98,20.03,20.08,20.13,20.18,20.24,20.3,20.35,20.42,20.48,20.55,20.63];

const NS = 'http://www.w3.org/2000/svg';
function mk(tag, attrs, parent) {
  const el = document.createElementNS(NS, tag);
  for (const k in attrs) el.setAttribute(k, attrs[k]);
  parent.appendChild(el);
  return el;
}
function makeAxis(x0, x1, xMax, y0, y1, yMax) {
  return {
    x0: x0, x1: x1, y0: y0, y1: y1,
    x: function (v) { return x0 + (v / xMax) * (x1 - x0); },
    y: function (v) { return y0 - (v / yMax) * (y0 - y1); }
  };
}
function drawAxes(g, ax, xTicks, yTicks, s) {
  yTicks.forEach(function (t) {
    if (t !== 0) {
      const grid = mk('line', {x1: ax.x0 - 3, x2: ax.x1, y1: ax.y(t), y2: ax.y(t), stroke: s.grid, 'stroke-width': s.gridW}, g);
      
      
    }
    const lab = mk('text', {x: s.yLabelX, y: ax.y(t) + 4, 'text-anchor': 'end', 'font-size': s.font, fill: '#333'}, g);
    lab.textContent = t;
    
    
  });
  const yAxis = mk('line', {x1: ax.x0, x2: ax.x0, y1: ax.y1, y2: ax.y0, stroke: s.axis, 'stroke-width': 1.3}, g);
  
  
  const xAxis = mk('line', {x1: ax.x0 - 3, x2: ax.x1, y1: ax.y0, y2: ax.y0, stroke: s.axis, 'stroke-width': 1.3}, g);
  
  
  xTicks.forEach(function (t) {
    const tick = mk('line', {x1: ax.x(t), x2: ax.x(t), y1: ax.y0, y2: ax.y0 + 3.5, stroke: s.axis, 'stroke-width': 1}, g);
    
    
    const lab = mk('text', {x: ax.x(t), y: s.xLabelY + 4, 'text-anchor': 'middle', 'font-size': s.font, fill: '#333'}, g);
    lab.textContent = t;
    
    
  });
}
function drawMarker(g, shape, px, py, size, fill, stroke, sw, name) {
  let el;
  if (shape === 'circle') {
    el = mk('circle', {cx: px, cy: py, r: size / 2, fill: fill, stroke: stroke, 'stroke-width': sw}, g);
  } else if (shape === 'square') {
    el = mk('rect', {x: px - size / 2, y: py - size / 2, width: size, height: size, fill: fill, stroke: stroke, 'stroke-width': sw}, g);
  } else {
    const h = size * 0.95;
    const pts = px + ',' + (py - h * 0.6) + ' ' + (px + size / 2) + ',' + (py + h * 0.4) + ' ' + (px - size / 2) + ',' + (py + h * 0.4);
    el = mk('polygon', {points: pts, fill: fill, stroke: stroke, 'stroke-width': sw}, g);
  }
  
  
}
function drawLine(g, ax, ages, vals, color, width, name) {
  const pts = ages.map(function (a, i) { return ax.x(a) + ',' + ax.y(vals[i]); }).join(' ');
  const line = mk('polyline', {points: pts, fill: 'none', stroke: color, 'stroke-width': width}, g);
  
  
}
function drawLit(g, ax, ages, vals, st, name) {
  drawLine(g, ax, ages, vals, st.line, 1.25, name);
  ages.forEach(function (a, i) {
    drawMarker(g, 'square', ax.x(a), ax.y(vals[i]), 7, st.fill, st.edge, 0.7, name);
  });
}
function drawCurve(g, ax, start, vals, st, name) {
  const ages = vals.map(function (_, i) { return start + i; });
  if (st.line) drawLine(g, ax, ages, vals, st.line, 0.8, name);
  vals.forEach(function (v, i) {
    drawMarker(g, st.shape, ax.x(start + i), ax.y(v), st.size, st.fill, st.edge, st.sw, name);
  });
}

const LIT = {
  li: {fill: '#7030A0', edge: '#777', line: '#7c7c7c'},
  yu: {fill: '#FFF200', edge: '#b0a060', line: '#F5EA50'},
  mf: {fill: '#953735', edge: '#888', line: '#8b6a6a'},
  mmTop: {fill: '#C8922E', edge: '#998', line: '#c4a878'},
  mmPb: {fill: '#D39498', edge: '#aa8888', line: '#dcb4b6'},
  hu: {fill: '#16A8E0', edge: '#7a9aaa', line: '#48a4bc'},
  hc: {fill: '#0F6DB5', edge: '#667f90', line: '#48788f'},
  nm: {fill: '#00A651', edge: '#6a9a80', line: '#4a9c84'},
  tm: {fill: '#F5B70F', edge: '#b0984a', line: '#e6da90'},
  tf: {fill: '#F00000', edge: '#b06060', line: '#7c3232'}
};
const DOT = {
  ba: {shape: 'circle', size: 7, fill: '#000', edge: '#000', sw: 0.3},
  rt: {shape: 'circle', size: 7, fill: '#b8b8b8', edge: '#999', sw: 0.8},
  ct: {shape: 'circle', size: 7, fill: '#fff', edge: '#555', sw: 0.9},
  ctLight: {shape: 'circle', size: 7, fill: '#fff', edge: '#8a8a8a', sw: 0.8}
};
const SEX = {
  baF: {shape: 'tri', size: 7.4, fill: '#000', edge: '#000', sw: 0.3, line: '#333'},
  baM: {shape: 'square', size: 7, fill: '#000', edge: '#000', sw: 0.3, line: '#333'},
  rtF: {shape: 'tri', size: 7.4, fill: '#808080', edge: '#666', sw: 0.6, line: '#777'},
  rtM: {shape: 'square', size: 7.2, fill: '#808080', edge: '#666', sw: 0.6, line: '#777'},
  ctF: {shape: 'tri', size: 7.4, fill: '#fff', edge: '#444', sw: 0.7, line: '#555'},
  ctM: {shape: 'square', size: 7.4, fill: '#fff', edge: '#9a9a9a', sw: 0.8, line: '#aaa'}
};

const gA = document.getElementById('chart-pf-top');
const axA = makeAxis(49, 566, 100, 577.5, 5.6, 80);
drawAxes(gA, axA, pfTopXTicks, pfTopYTicks, {grid: '#bdbdbd', gridW: 1.4, axis: '#8f8f8f', yLabelX: 38, xLabelY: 595, font: 12});
drawLit(gA, axA, pfLiAges, pfLiValues, LIT.li, 'li-2019');
drawLit(gA, axA, pfYuAges, pfYuValues, LIT.yu, 'yu-2020');
drawLit(gA, axA, pfMitchellFAges, pfMitchellFValues, LIT.mf, 'mitchell-female');
drawLit(gA, axA, pfMitchellMAges, pfMitchellMValues, LIT.mmTop, 'mitchell-male');
drawLit(gA, axA, pfHodsonUAges, pfHodsonUValues, LIT.hu, 'hodson-uncontrolled');
drawLit(gA, axA, pfHodsonCAges, pfHodsonCValues, LIT.hc, 'hodson-controlled');
drawLit(gA, axA, pfNamaAges, pfNamaValues, LIT.nm, 'namasivayam');
drawLit(gA, axA, pfTorjesenAges, pfTorjesenMValues, LIT.tm, 'torjesen-male');
drawLit(gA, axA, pfTorjesenAges, pfTorjesenFValues, LIT.tf, 'torjesen-female');
drawCurve(gA, axA, pfCircleBaStart, pfCircleBa, DOT.ba, 'ba-oscillometry');
drawCurve(gA, axA, pfCircleRtStart, pfCircleRt, DOT.rt, 'radial-tonometry');
drawCurve(gA, axA, pfCircleCtStart, pfCircleCt, DOT.ct, 'carotid-tonometry');

const gB = document.getElementById('chart-pb-top');
const axB = makeAxis(944.7, 1462, 100, 578, 7, 35);
drawAxes(gB, axB, pbTopXTicks, pbTopYTicks, {grid: '#c0c0c0', gridW: 1.3, axis: '#aaaaaa', yLabelX: 934.5, xLabelY: 596, font: 12});
drawLit(gB, axB, pbLiAges, pbLiValues, LIT.li, 'li-2019');
drawLit(gB, axB, pbYuAges, pbYuValues, LIT.yu, 'yu-2020');
drawLit(gB, axB, pbMitchellFAges, pbMitchellFValues, LIT.mf, 'mitchell-female');
drawLit(gB, axB, pbMitchellMAges, pbMitchellMValues, LIT.mmPb, 'mitchell-male');
drawLit(gB, axB, pbHodsonUAges, pbHodsonUValues, LIT.hu, 'hodson-uncontrolled');
drawLit(gB, axB, pbHodsonCAges, pbHodsonCValues, LIT.hc, 'hodson-controlled');
drawLit(gB, axB, pbNamaAges, pbNamaValues, LIT.nm, 'namasivayam');
drawLit(gB, axB, pbTorjesenAges, pbTorjesenMValues, LIT.tm, 'torjesen-male');
drawLit(gB, axB, pbTorjesenAges, pbTorjesenFValues, LIT.tf, 'torjesen-female');
drawCurve(gB, axB, pbCircleBaStart, pbCircleBa, DOT.ba, 'ba-oscillometry');
drawCurve(gB, axB, pbCircleRtStart, pbCircleRt, DOT.rt, 'radial-tonometry');
drawCurve(gB, axB, pbCircleCtStart, pbCircleCt, DOT.ctLight, 'carotid-tonometry');

const gC = document.getElementById('chart-pf-bottom');
const axC = makeAxis(69, 551.6, 90, 1191.5, 645.5, 50);
drawAxes(gC, axC, pfBottomXTicks, pfBottomYTicks, {grid: '#bdbdbd', gridW: 1.1, axis: '#aaaaaa', yLabelX: 59, xLabelY: 1209, font: 12});
drawCurve(gC, axC, pfBaFemaleStart, pfBaFemale, SEX.baF, 'ba-female');
drawCurve(gC, axC, pfBaMaleStart, pfBaMale, SEX.baM, 'ba-male');
drawCurve(gC, axC, pfRtFemaleStart, pfRtFemale, SEX.rtF, 'radial-female');
drawCurve(gC, axC, pfRtMaleStart, pfRtMale, SEX.rtM, 'radial-male');
drawCurve(gC, axC, pfCtFemaleStart, pfCtFemale, SEX.ctF, 'carotid-female');
drawCurve(gC, axC, pfCtMaleStart, pfCtMale, SEX.ctM, 'carotid-male');

const gD = document.getElementById('chart-pb-bottom');
const axD = makeAxis(948, 1427, 90, 1204, 658, 30);
drawAxes(gD, axD, pbBottomXTicks, pbBottomYTicks, {grid: '#bdbdbd', gridW: 1.1, axis: '#aaaaaa', yLabelX: 937, xLabelY: 1222, font: 12});
drawCurve(gD, axD, pbBaFemaleStart, pbBaFemale, SEX.baF, 'ba-female');
drawCurve(gD, axD, pbBaMaleStart, pbBaMale, SEX.baM, 'ba-male');
drawCurve(gD, axD, pbRtFemaleStart, pbRtFemale, SEX.rtF, 'radial-female');
drawCurve(gD, axD, pbRtMaleStart, pbRtMale, SEX.rtM, 'radial-male');
drawCurve(gD, axD, pbCtFemaleStart, pbCtFemale, SEX.ctF, 'carotid-female');
drawCurve(gD, axD, pbCtMaleStart, pbCtMale, SEX.ctM, 'carotid-male');
</script>
</body>
</html>
